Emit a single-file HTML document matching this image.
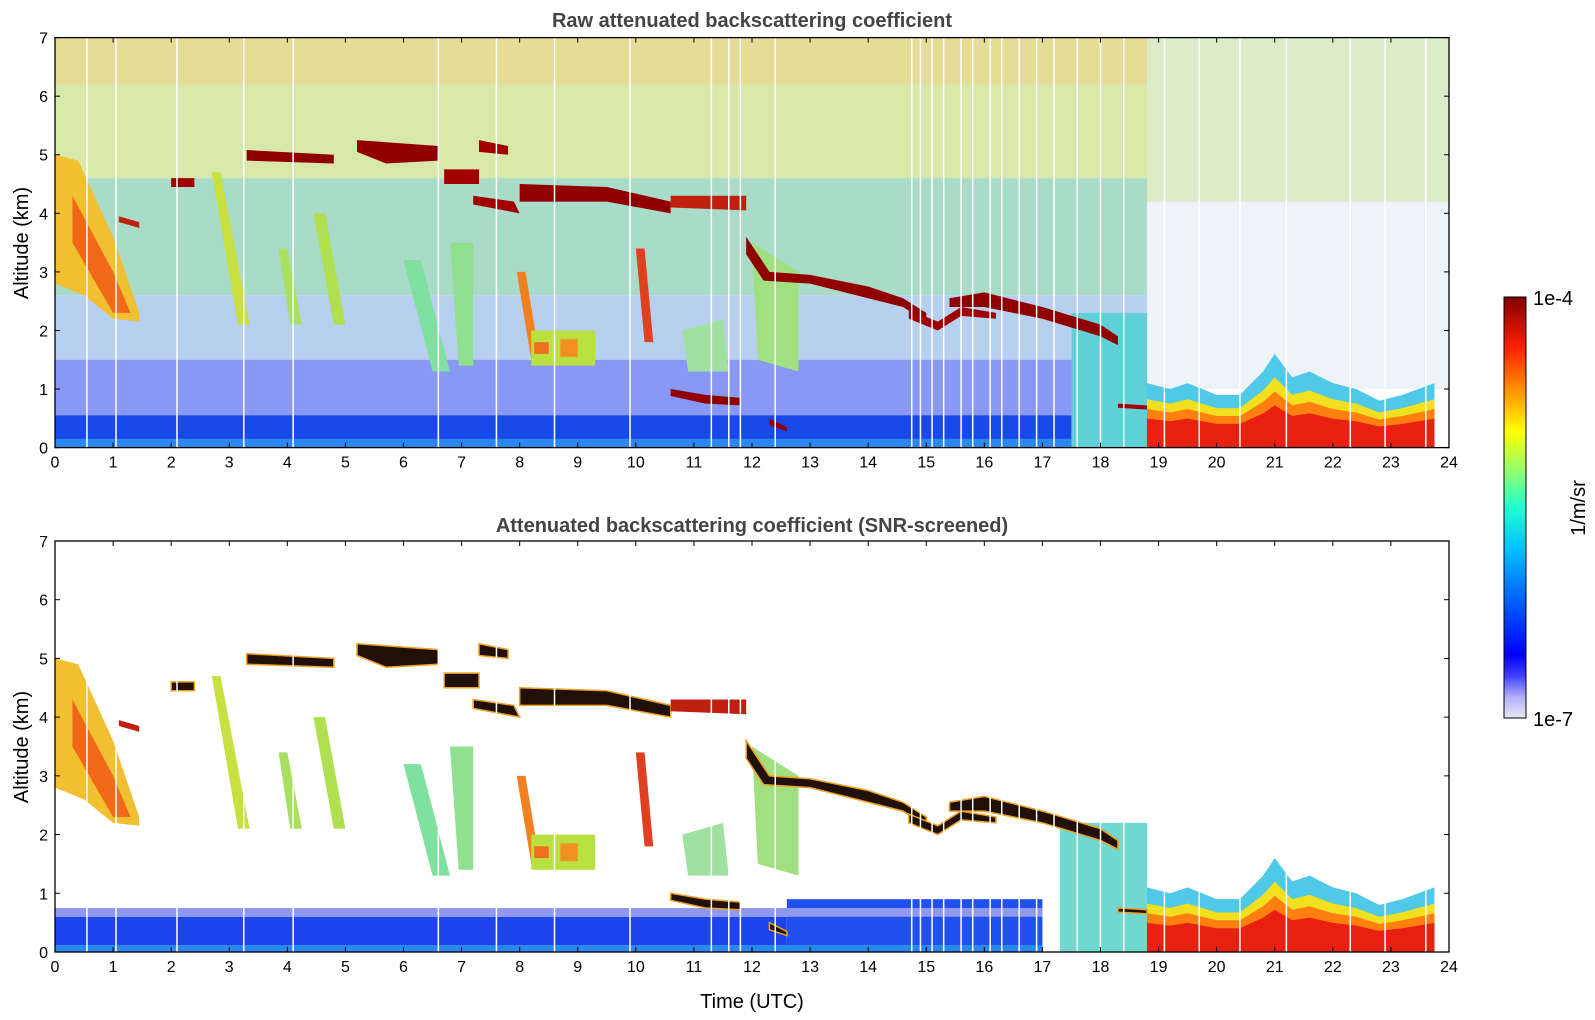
<!DOCTYPE html>
<html><head><meta charset="utf-8"><style>
html,body{margin:0;padding:0;background:#fff;}
svg{display:block;font-family:"Liberation Sans","DejaVu Sans",sans-serif;}
</style></head><body>
<svg id="fig" width="1595" height="1020" viewBox="0 0 1595 1020" xmlns="http://www.w3.org/2000/svg">
<defs>
<linearGradient id="jet" x1="0" y1="1" x2="0" y2="0">
<stop offset="0" stop-color="#e8e8f8"/><stop offset="0.05" stop-color="#b0b0f8"/><stop offset="0.1" stop-color="#4040ff"/>
<stop offset="0.15" stop-color="#0000ff"/><stop offset="0.3" stop-color="#0070ff"/><stop offset="0.4" stop-color="#00c0ff"/>
<stop offset="0.5" stop-color="#20ffd0"/><stop offset="0.6" stop-color="#a0ff60"/><stop offset="0.68" stop-color="#ffff00"/>
<stop offset="0.78" stop-color="#ff9000"/><stop offset="0.88" stop-color="#ff2000"/><stop offset="1" stop-color="#800000"/>
</linearGradient>
<clipPath id="c1"><rect x="55" y="37.6" width="1394" height="410"/></clipPath>
<clipPath id="c2"><rect x="55" y="541" width="1394" height="411"/></clipPath>
</defs>
<g id="p1" clip-path="url(#c1)"></g>
<g id="p2" clip-path="url(#c2)"></g>
<g id="axes"></g>
<text x="752" y="27" text-anchor="middle" font-size="20" font-weight="bold" fill="#444">Raw attenuated backscattering coefficient</text>
<text x="752" y="532" text-anchor="middle" font-size="20" font-weight="bold" fill="#444">Attenuated backscattering coefficient (SNR-screened)</text>
<text transform="translate(28,243) rotate(-90)" text-anchor="middle" font-size="20">Altitude (km)</text>
<text transform="translate(28,747) rotate(-90)" text-anchor="middle" font-size="20">Altitude (km)</text>
<text x="752" y="1008" text-anchor="middle" font-size="20">Time (UTC)</text>
<rect x="1504" y="297" width="22" height="421" fill="url(#jet)" stroke="#000" stroke-width="1"/>
<text x="1533" y="305" font-size="20">1e-4</text>
<text x="1533" y="726" font-size="20">1e-7</text>
<text transform="translate(1585,508) rotate(-90)" text-anchor="middle" font-size="20">1/m/sr</text>
</svg>
<script>
const NS='http://www.w3.org/2000/svg';
const xTicks=[0,1,2,3,4,5,6,7,8,9,10,11,12,13,14,15,16,17,18,19,20,21,22,23,24];
const yTicks=[0,1,2,3,4,5,6,7];
// raw background bands: [t0,t1,a0,a1,color]
const rawBands=[
[0,24,4.6,7,'#d8e8a8'],[0,24,6.2,7,'#e6dc98'],[0,24,2.6,4.6,'#a8dcc8'],[0,24,1.5,2.6,'#b8d0f0'],
[0,18.8,0.5,1.5,'#8898f4'],[0,17.5,0,0.55,'#1848e8'],[0,17.5,0,0.15,'#2a88f0'],
[18.8,24,1.0,4.2,'#eef3f8'],[18.8,24,4.2,7,'#dcecc8'],[17.5,18.8,0,2.3,'#60d0d8']];
// screened background bands
const scrBands=[[0,12.6,0,0.6,'#1c44ea'],[12.6,17,0,0.9,'#2050ee'],[0,17,0.6,0.75,'#9098f0'],[17.3,18.8,0,2.2,'#70d8d0'],[0,17,0,0.12,'#2a88f0']];
// low-level cloud after 19h: [t, topKm]
const lowT=[18.8,19.2,19.5,20,20.4,20.8,21.0,21.3,21.6,22,22.4,22.8,23.2,23.75];
const lowTop=[1.1,1.0,1.1,0.9,0.9,1.3,1.6,1.2,1.3,1.1,1.0,0.8,0.9,1.1];
// clouds: [polygon (hour,km) pairs, color]
const clouds=[
[[[0,5],[0.4,4.9],[1.0,3.6],[1.45,2.3],[1.45,2.15],[1.0,2.2],[0.5,2.6],[0,2.8]],'#f0c030'],
[[[0.3,4.3],[1.0,3.0],[1.3,2.3],[1.0,2.3],[0.3,3.5]],'#f06818'],
[[[2.7,4.7],[2.85,4.7],[3.35,2.1],[3.15,2.1]],'#c8e040'],
[[[3.85,3.4],[4.0,3.4],[4.25,2.1],[4.05,2.1]],'#a8e060'],
[[[4.45,4.0],[4.65,4.0],[5.0,2.1],[4.8,2.1]],'#b0e050'],
[[[6.0,3.2],[6.3,3.2],[6.8,1.3],[6.5,1.3]],'#80e0a0'],
[[[6.8,3.5],[7.2,3.5],[7.2,1.4],[6.95,1.4]],'#90e090'],
[[[7.95,3.0],[8.1,3.0],[8.35,1.5],[8.2,1.5]],'#f08020'],
[[[8.2,2.0],[9.3,2.0],[9.3,1.4],[8.2,1.4]],'#b8e040'],
[[[8.25,1.8],[8.5,1.8],[8.5,1.6],[8.25,1.6]],'#f07020'],
[[[8.7,1.85],[9.0,1.85],[9.0,1.55],[8.7,1.55]],'#f09020'],
[[[10.0,3.4],[10.15,3.4],[10.3,1.8],[10.15,1.8]],'#e04020'],
[[[10.8,2.0],[11.5,2.2],[11.6,1.3],[10.9,1.3]],'#a0e0a0'],
[[[12.0,3.5],[12.8,3.0],[12.8,1.3],[12.1,1.5]],'#a0e080'],
[[[1.1,3.95],[1.45,3.85],[1.45,3.75],[1.1,3.85]],'#c02010'],
[[[2.0,4.6],[2.4,4.6],[2.4,4.45],[2.0,4.45]],'#a00000'],
[[[3.3,5.08],[4.8,5.0],[4.8,4.85],[3.3,4.9]],'#900000'],
[[[5.2,5.25],[6.6,5.15],[6.6,4.9],[5.7,4.85],[5.2,5.05]],'#900000'],
[[[6.7,4.75],[7.3,4.75],[7.3,4.5],[6.7,4.5]],'#a00000'],
[[[7.3,5.25],[7.8,5.15],[7.8,5.0],[7.3,5.05]],'#a00000'],
[[[7.2,4.3],[7.9,4.2],[8.0,4.0],[7.2,4.15]],'#a00000'],
[[[8.0,4.5],[9.5,4.45],[10.6,4.2],[10.6,4.0],[9.5,4.2],[8.0,4.2]],'#900000'],
[[[10.6,4.3],[11.9,4.3],[11.9,4.05],[10.6,4.1]],'#c02010'],
[[[11.9,3.6],[12.3,3.0],[13,2.95],[14,2.75],[14.6,2.55],[15.0,2.3],[15.0,2.15],[14.6,2.4],[14,2.55],[13,2.8],[12.2,2.85],[11.9,3.3]],'#900000'],
[[[15.4,2.55],[16,2.65],[17,2.4],[18,2.1],[18.3,1.9],[18.3,1.75],[18,1.9],[17,2.2],[16,2.4],[15.4,2.4]],'#900000'],
[[[14.7,2.35],[15.2,2.15],[15.6,2.4],[16.2,2.3],[16.2,2.2],[15.6,2.25],[15.2,2.0],[14.7,2.2]],'#a00000'],
[[[10.6,1.0],[11.2,0.9],[11.8,0.85],[11.8,0.72],[11.2,0.75],[10.6,0.88]],'#900000'],
[[[12.3,0.5],[12.6,0.35],[12.6,0.28],[12.3,0.38]],'#900000'],
[[[18.3,0.75],[18.8,0.72],[18.8,0.65],[18.3,0.68]],'#a00000']];
const gaps=[0.55,1.05,2.1,3.25,4.1,6.6,7.6,8.6,9.9,11.3,11.6,11.8,12.4,14.75,14.9,15.1,15.3,15.6,15.8,16.1,16.3,16.6,16.9,17.2,17.6,18.0,18.4,19.1,19.7,20.4,21.2,22.3,22.9,23.6];
const X=h=>55+h*1394/24;
const Y1=a=>447.6-a*410/7, Y2=a=>952-a*411/7;
function el(t,p,attrs){const e=document.createElementNS(NS,t);for(const k in attrs)e.setAttribute(k,attrs[k]);p.appendChild(e);return e;}
function draw(gid,Y,bands,dark){
 const g=document.getElementById(gid);
 bands.forEach(b=>{const r=el('rect',g,{x:X(b[0]),y:Y(b[3]),width:X(b[1])-X(b[0]),height:Y(b[2])-Y(b[3]),fill:b[4]});
  
  });
 const layers=[[1,'#50c8e8'],[0.75,'#f0e020'],[0.6,'#ff8010'],[0.45,'#e82010']];
 layers.forEach(L=>{let pts=lowT.map((t,i)=>X(t)+','+Y(lowTop[i]*L[0])).join(' ');
  pts+=' '+X(lowT[lowT.length-1])+','+Y(0)+' '+X(lowT[0])+','+Y(0);
  const p=el('polygon',g,{points:pts,fill:L[1]});
  
  });
 clouds.forEach(c=>{let col=c[1];if(dark&&(col=='#900000'||col=='#a00000'))col='#201008';
  const p=el('polygon',g,{points:c[0].map(q=>X(q[0])+','+Y(q[1])).join(' '),fill:col,stroke:dark&&col=='#201008'?'#f0a020':'none','stroke-width':dark?1.5:0});
  
  });
 gaps.forEach(t=>{const l=el('line',g,{x1:X(t),x2:X(t),y1:Y(7),y2:Y(0),stroke:'#fff','stroke-width':1.5});
  
  });
}
draw('p1',Y1,rawBands,false);
draw('p2',Y2,scrBands,true);
const ax=document.getElementById('axes');
[[Y1,37.6,447.6],[Y2,541,952]].forEach((P,pi)=>{
 const f=el('rect',ax,{x:55,y:P[1],width:1394,height:P[2]-P[1],fill:'none',stroke:'#000','stroke-width':1.3});
 
 
 xTicks.forEach(t=>{el('line',ax,{x1:X(t),x2:X(t),y1:P[2],y2:P[2]-5,stroke:'#000'});el('line',ax,{x1:X(t),x2:X(t),y1:P[1],y2:P[1]+5,stroke:'#000'});
  const tx=el('text',ax,{x:X(t),y:P[2]+20,'text-anchor':'middle','font-size':16});tx.textContent=t;
  
  });
 yTicks.forEach(a=>{const y=P[0](a);el('line',ax,{x1:55,x2:60,y1:y,y2:y,stroke:'#000'});el('line',ax,{x1:1449,x2:1444,y1:y,y2:y,stroke:'#000'});
  const tx=el('text',ax,{x:48,y:y+6,'text-anchor':'end','font-size':16});tx.textContent=a;
  
  });
});
</script>
</body></html>
